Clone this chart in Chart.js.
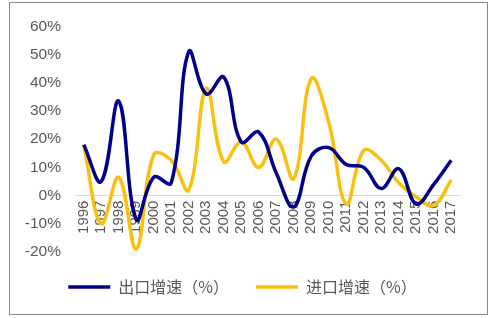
<!DOCTYPE html>
<html>
<head>
<meta charset="utf-8">
<script src="https://cdn.jsdelivr.net/npm/chart.js@4/dist/chart.umd.min.js"></script>
<style>
  body { margin: 0; background: #fff; }
  #wrap { position: absolute; left: 9px; top: 2px; width: 477px; height: 311px; border: 1px solid #8a8a8a; }
</style>
</head>
<body>
<div id="wrap"><canvas id="chart"></canvas></div>
<script>
const years = ['1996','1997','1998','1999','2000','2001','2002','2003','2004','2005','2006',
  '2007','2008','2009','2010','2011','2012','2013','2014','2015','2016','2017'];
const exportGrowth = [18, 5, 33.5, -8.5, 6.5, 4.5, 51, 36, 42, 19, 22.5,
  8, -4, 14, 17, 11, 10, 2.5, 9.5, -3, 4, 12.5];
const importGrowth = [18, -10, 6.5, -19, 14.5, 12.5, 2, 38, 12, 19, 10,
  20, 6, 41.5, 26, -3, 16, 12.5, 4.5, -0.5, -3.5, 5.5];
const yTicks = [-20, -10, 0, 10, 20, 30, 40, 50, 60];
const seriesNames = ['出口增速（%）', '进口增速（%）'];

const FONT = "'Liberation Sans', Arial, 'Noto Sans CJK SC', sans-serif";
const CJK_FONT = "'Noto Sans CJK SC', sans-serif";
const GREY = '#595959';

// общая настройка линий
function lineSet(label, data, color) {
  return {
    label: label,
    data: data,
    borderColor: color,
    backgroundColor: color,
    borderWidth: 3.5,
    pointRadius: 0,
    tension: 0.4,
    fill: false
  };
}

new Chart(document.getElementById('chart'), {
  type: 'line',
  data: {
    labels: years,
    datasets: [
      lineSet(seriesNames[0], exportGrowth, '#00008a'),
      lineSet(seriesNames[1], importGrowth, '#f8c011')
    ]
  },
  options: {
    responsive: true,
    maintainAspectRatio: false,
    animation: false,
    layout: { padding: { left: 15, right: 27, top: 23, bottom: 9 } },
    plugins: {
      tooltip: { enabled: false },
      legend: {
        position: 'bottom',
        labels: {
          usePointStyle: true,
          pointStyle: 'line',
          pointStyleWidth: 42,
          padding: 27,
          color: GREY,
          font: { family: CJK_FONT, size: 16 }
        }
      }
    },
    scales: {
      x: {
        position: { y: 0 },
        offset: true,
        grid: { display: false, drawTicks: false },
        border: { display: true, color: '#d9d9d9', width: 1 },
        ticks: {
          autoSkip: false,
          minRotation: 90,
          maxRotation: 90,
          padding: 5,
          color: GREY,
          font: { family: FONT, size: 15 }
        }
      },
      y: {
        min: -20,
        max: 60,
        grid: { display: false, drawTicks: false },
        border: { display: false },
        afterBuildTicks: s => { s.ticks = yTicks.map(v => ({ value: v })); },
        ticks: {
          padding: 14,
          color: GREY,
          font: { family: FONT, size: 15.5 },
          callback: v => v + '%'
        },
        afterFit: s => { s.width = 50; }
      }
    }
  }
});
</script>
</body>
</html>
